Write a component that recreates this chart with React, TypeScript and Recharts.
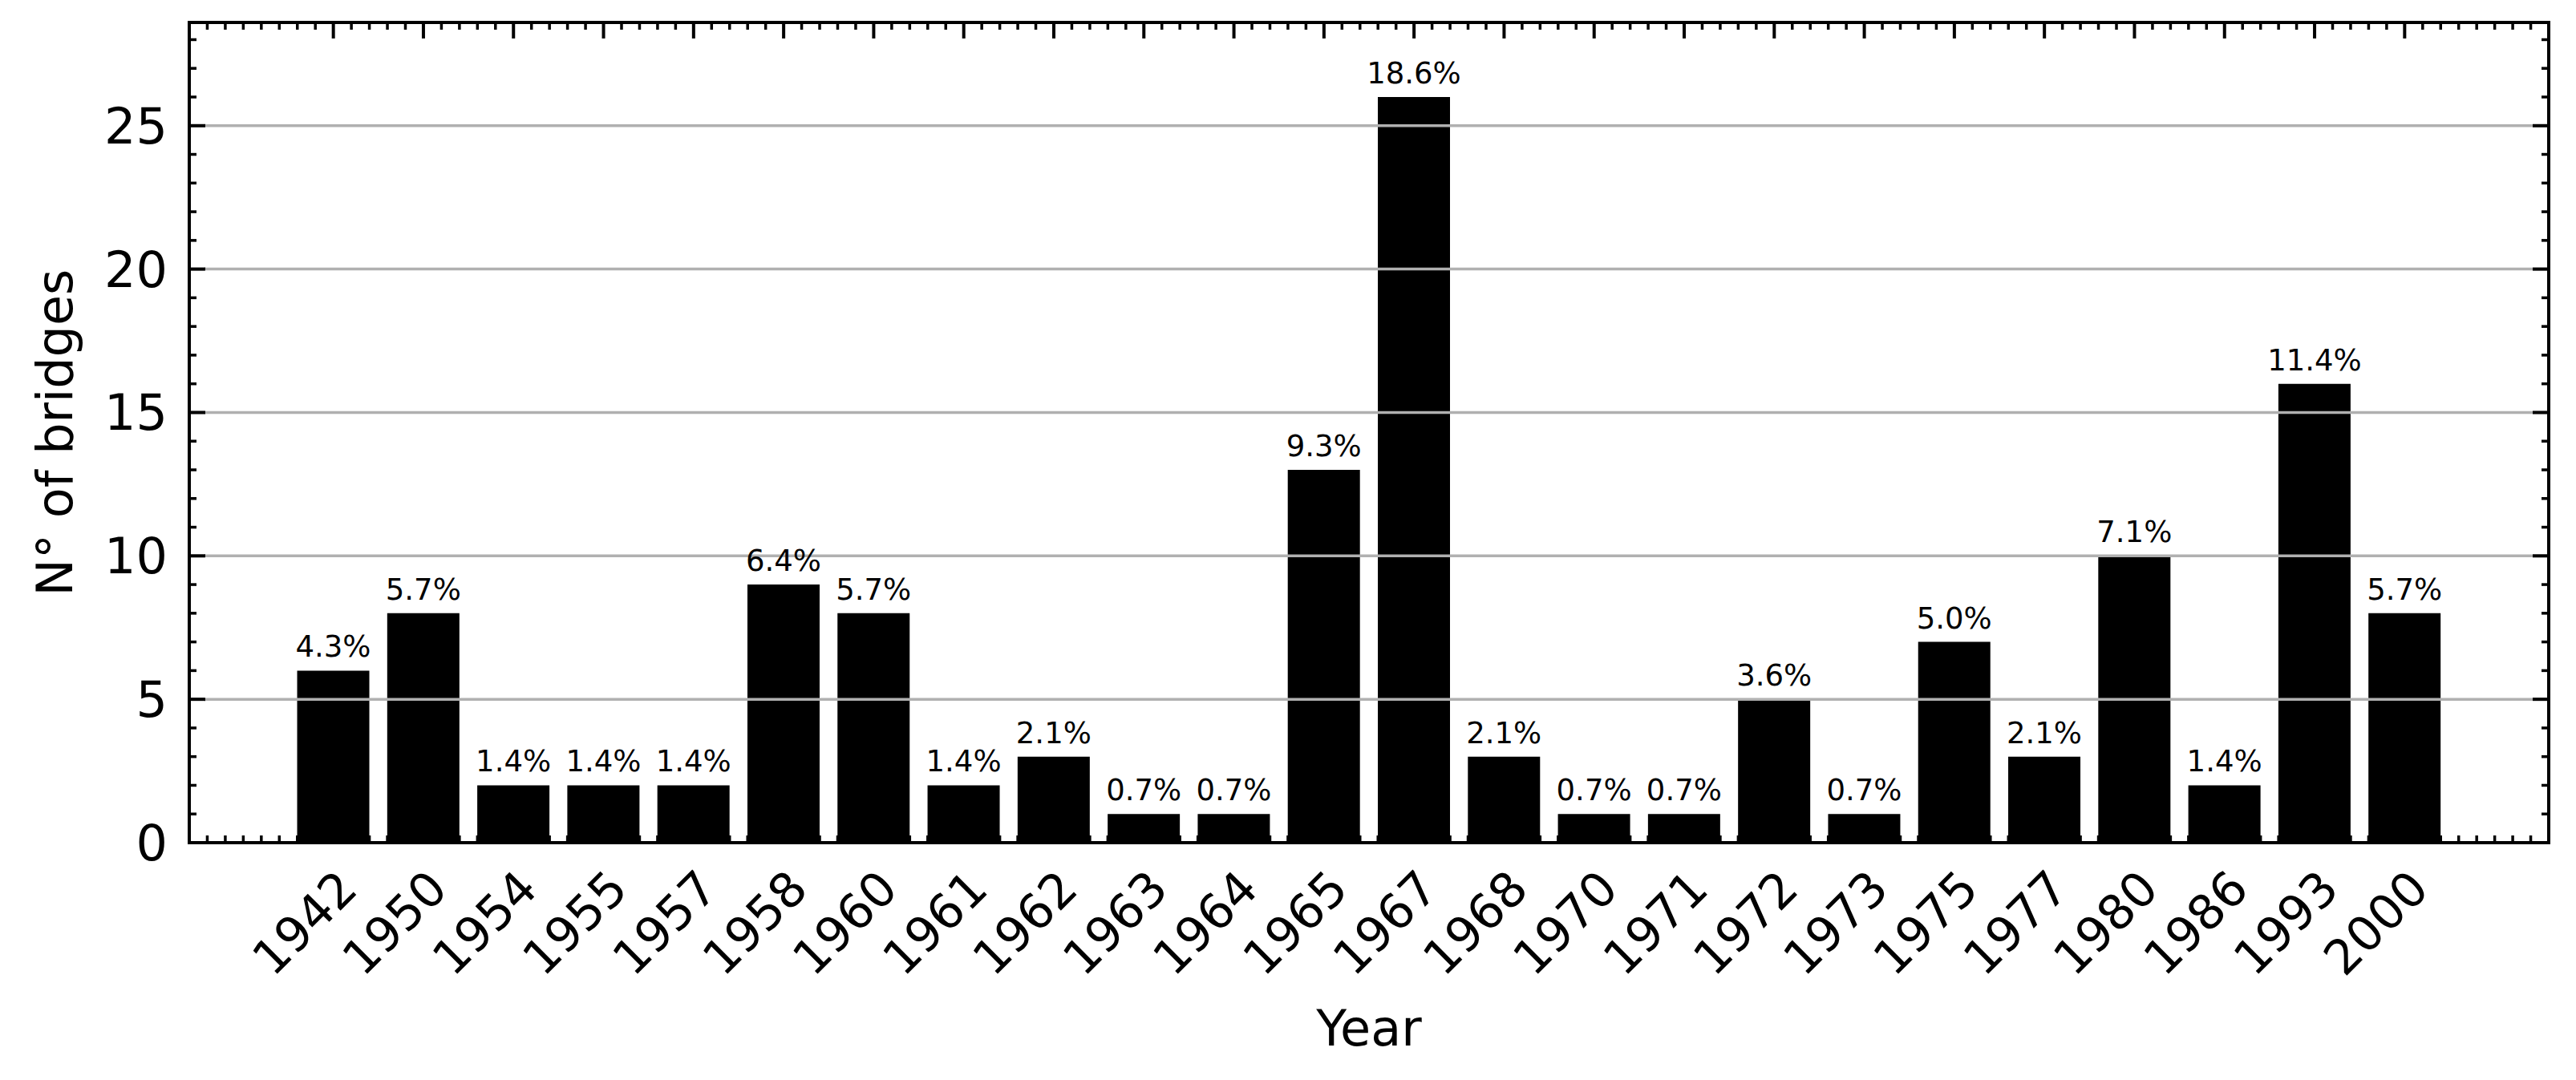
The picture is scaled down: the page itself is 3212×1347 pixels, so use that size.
import { BarChart, Bar, XAxis, YAxis, CartesianGrid, LabelList } from "recharts";

const FONT = '"DejaVu Sans", Verdana, sans-serif';

const YEARS = [
  "1942", "1950", "1954", "1955", "1957", "1958", "1960", "1961", "1962", "1963", "1964", "1965",
  "1967", "1968", "1970", "1971", "1972", "1973", "1975", "1977", "1980", "1986", "1993", "2000",
];
const BRIDGES = [6, 8, 2, 2, 2, 9, 8, 2, 3, 1, 1, 13, 26, 3, 1, 1, 5, 1, 7, 3, 10, 2, 16, 8];
const SHARES = [
  4.3, 5.7, 1.4, 1.4, 1.4, 6.4, 5.7, 1.4, 2.1, 0.7, 0.7, 9.3,
  18.6, 2.1, 0.7, 0.7, 3.6, 0.7, 5.0, 2.1, 7.1, 1.4, 11.4, 5.7,
];

const Y_MAJOR = [0, 5, 10, 15, 20, 25];
const Y_DOMAIN = [0, 28.6];
const X_DOMAIN = [-1.6, 24.6];

// every integer gets a tick mark, multiples of 5 are the labelled ones
const Y_TICKS: number[] = [];
for (let v = 0; v <= 28; v++) Y_TICKS.push(v);

// bars sit at their index, minor marks every fifth of a slot
const X_TICKS: number[] = [];
for (let k = -7; k <= 122; k++) X_TICKS.push(k / 5);

const isXMajor = (v: number) => Number.isInteger(v) && v >= 0 && v < YEARS.length;
const isYMajor = (v: number) => v % 5 === 0;

const data = YEARS.map((year, i) => ({ idx: i, year, bridges: BRIDGES[i], share: SHARES[i] }));

const spine = { stroke: "#000", strokeWidth: 4, strokeLinecap: "square" as const };
const MAJOR_LEN = 20;
const MINOR_LEN = 9;

function BottomTick(props: any) {
  const { x, y, payload } = props;
  const major = isXMajor(payload.value);
  return (
    <g>
      <line x1={x} x2={x} y1={y} y2={y - (major ? MAJOR_LEN : MINOR_LEN)} stroke="#000" strokeWidth={major ? 4 : 3.5} />
      {major && (
        <text
          x={0}
          y={0}
          textAnchor="end"
          dominantBaseline="central"
          fontSize={60}
          fontFamily={FONT}
          fill="#000"
          transform={`translate(${x + 18}, ${y + 46}) rotate(-45)`}
        >
          {YEARS[payload.value]}
        </text>
      )}
    </g>
  );
}

function TopTick(props: any) {
  const { x, y, payload } = props;
  const major = isXMajor(payload.value);
  return (
    <line x1={x} x2={x} y1={y} y2={y + (major ? MAJOR_LEN : MINOR_LEN)} stroke="#000" strokeWidth={major ? 4 : 3.5} />
  );
}

function LeftTick(props: any) {
  const { x, y, payload } = props;
  const major = isYMajor(payload.value);
  return (
    <g>
      <line x1={x} x2={x + (major ? MAJOR_LEN : MINOR_LEN)} y1={y} y2={y} stroke="#000" strokeWidth={major ? 4 : 3.5} />
      {major && (
        <text x={x - 27} y={y} dy="0.355em" textAnchor="end" fontSize={62} fontFamily={FONT} fill="#000">
          {payload.value}
        </text>
      )}
    </g>
  );
}

function RightTick(props: any) {
  const { x, y, payload } = props;
  const major = isYMajor(payload.value);
  return (
    <line x1={x} x2={x - (major ? MAJOR_LEN : MINOR_LEN)} y1={y} y2={y} stroke="#000" strokeWidth={major ? 4 : 3.5} />
  );
}

function XTitle(props: any) {
  const vb = props.viewBox || { x: 236, y: 1051, width: 2942 };
  return (
    <text x={vb.x + vb.width / 2} y={vb.y + 253} textAnchor="middle" fontSize={62} fontFamily={FONT} fill="#000">
      Year
    </text>
  );
}

function YTitle(props: any) {
  const vb = props.viewBox || { x: 136, y: 28, width: 100, height: 1023 };
  const cx = vb.x + vb.width - 146;
  const cy = vb.y + vb.height / 2;
  return (
    <text
      x={0}
      y={0}
      textAnchor="middle"
      fontSize={62}
      fontFamily={FONT}
      fill="#000"
      transform={`translate(${cx}, ${cy}) rotate(-90)`}
    >
      N° of bridges
    </text>
  );
}

export default function App() {
  return (
    <div style={{ position: "absolute", left: 0, top: 0, background: "#fff" }}>
      <BarChart
        width={3212}
        height={1347}
        data={data}
        margin={{ top: 27, right: 33, bottom: 196, left: 136 }}
      >
        <Bar dataKey="bridges" fill="#000" barSize={90} isAnimationActive={false}>
          <LabelList
            dataKey="share"
            position="top"
            offset={17}
            formatter={(v: any) => `${Number(v).toFixed(1)}%`}
            fill="#000"
            fontSize={37}
            fontFamily={FONT}
          />
        </Bar>
        <CartesianGrid
          vertical={false}
          horizontalValues={Y_MAJOR}
          stroke="#b0b0b0"
          strokeWidth={3.5}
          zIndex={350}
        />

        <XAxis
          dataKey="idx"
          type="number"
          domain={X_DOMAIN}
          ticks={X_TICKS}
          interval={0}
          allowDataOverflow
          height={100}
          tickSize={0}
          tickMargin={0}
          tickLine={false}
          axisLine={spine}
          tick={<BottomTick />}
          label={{ content: XTitle }}
        />
        <XAxis
          xAxisId="top"
          orientation="top"
          dataKey="idx"
          type="number"
          domain={X_DOMAIN}
          ticks={X_TICKS}
          interval={0}
          allowDataOverflow
          height={1}
          tickSize={0}
          tickMargin={0}
          tickLine={false}
          axisLine={spine}
          tick={<TopTick />}
        />

        <YAxis
          type="number"
          domain={Y_DOMAIN}
          ticks={Y_TICKS}
          interval={0}
          allowDataOverflow
          width={100}
          tickSize={0}
          tickMargin={0}
          tickLine={false}
          axisLine={spine}
          tick={<LeftTick />}
          label={{ content: YTitle }}
        />
        <YAxis
          yAxisId="right"
          orientation="right"
          type="number"
          domain={Y_DOMAIN}
          ticks={Y_TICKS}
          interval={0}
          allowDataOverflow
          width={1}
          tickSize={0}
          tickMargin={0}
          tickLine={false}
          axisLine={spine}
          tick={<RightTick />}
        />
      </BarChart>
    </div>
  );
}
